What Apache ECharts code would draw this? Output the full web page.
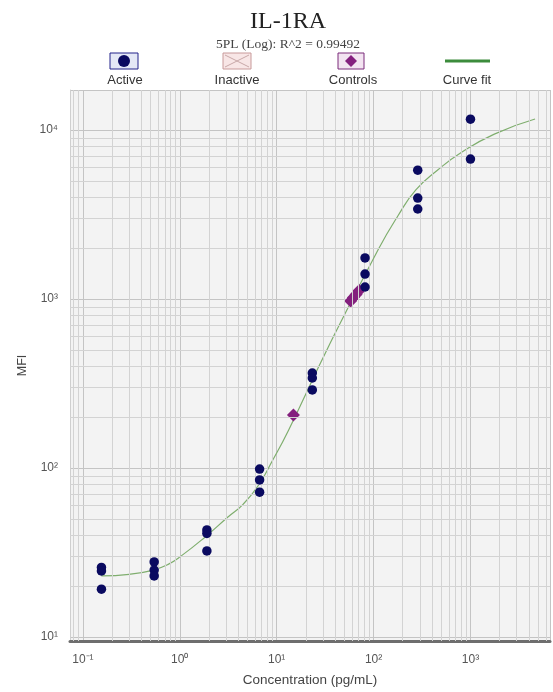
<!DOCTYPE html>
<html><head><meta charset="utf-8">
<script src="https://cdn.jsdelivr.net/npm/echarts@6/dist/echarts.min.js"></script>
<style>html,body{margin:0;padding:0;background:#fff}#c{width:553px;height:692px}</style>
</head><body><div id="c"></div>
<script>
// ---- data ----
const activeX = [0.1554,0.1554,0.1554, 0.544,0.544,0.544, 1.904,1.904,1.904, 6.664,6.664,6.664, 23.32,23.32,23.32, 81.63,81.63,81.63, 285.7,285.7,285.7, 1000,1000];
const activeY = [25.8,24.6,19.2, 27.8,24.9,23.0, 43,41,32.3, 98.6,85,72, 365,341,290, 1750,1405,1178, 5790,3960,3410, 11600,6730];
const controlX = [14.9, 58, 62, 66, 71];
const controlY = [206, 975, 1020, 1065, 1125];
const curveX = [0.155, 0.3, 0.522, 0.75, 1.036, 1.83, 3.14, 4.5, 6.38, 9.0, 13.3, 34.1, 111, 178, 273, 459, 789, 1762, 4640];
const curveY = [23.0, 23.5, 24.8, 26.8, 30.2, 39.1, 51.3, 61, 78, 110, 168, 520, 1950, 3100, 4420, 5800, 7310, 9460, 11620];
const xTickValues = [0.1, 1, 10, 100, 1000];
const xTickLabels = ['10\u207B\u00B9', '10\u2070', '10\u00B9', '10\u00B2', '10\u00B3'];
const yTickValues = [10, 100, 1000, 10000];
const yTickLabels = ['10\u00B9', '10\u00B2', '10\u00B3', '10\u2074'];
const gridMultipliers = [2,3,4,5,6,7,8,9];
const xDecades = [0.01, 0.1, 1, 10, 100, 1000];
const yDecades = [1, 10, 100, 1000, 10000];

const xMin = 0.0736, xMax = 6620, yMin = 9.47, yMax = 17260;

function lab(vals, labels){
  return function(v){
    for (let i=0;i<vals.length;i++){ if (Math.abs(Math.log10(v)-Math.log10(vals[i]))<1e-6) return labels[i]; }
    return '';
  };
}
const minorX = [], minorY = [];
xDecades.forEach(d=>gridMultipliers.forEach(m=>{const v=d*m; if(v>xMin&&v<xMax) minorX.push({xAxis:v});}));
yDecades.forEach(d=>gridMultipliers.forEach(m=>{const v=d*m; if(v>yMin&&v<yMax) minorY.push({yAxis:v});}));

const chart = echarts.init(document.getElementById('c'), null, {renderer:'canvas'});
const sans = 'Liberation Sans, Arial, sans-serif';
const labelY = 80;
chart.setOption({
  animation:false,
  backgroundColor:'#fff',
  title:[
    {text:'IL-1RA', left:283, top:5, textAlign:'center', textStyle:{fontFamily:'Liberation Serif, Times New Roman, serif', fontSize:24, fontWeight:'normal', color:'#222'}},
    {text:'5PL (Log): R^2 = 0.99492', left:283, top:32, textAlign:'center', textStyle:{fontFamily:'Liberation Serif, Times New Roman, serif', fontSize:13.5, fontWeight:'normal', color:'#444'}}
  ],
  grid:{left:70, top:90, right:0, bottom:51, show:true, backgroundColor:'#f3f3f3', borderWidth:0},
  xAxis:{type:'log', min:xMin, max:xMax, name:'Concentration (pg/mL)', nameLocation:'middle', nameGap:32,
    nameTextStyle:{fontFamily:sans, fontSize:13.5, color:'#444'},
    axisLine:{show:true, lineStyle:{color:'#6e6e6e', width:3}}, axisTick:{show:false},
    axisLabel:{formatter:lab(xTickValues,xTickLabels), fontFamily:sans, fontSize:12, color:'#555', margin:13},
    splitLine:{show:true, lineStyle:{color:'#c4c4c4', width:1}}},
  yAxis:{type:'log', min:yMin, max:yMax, name:'MFI', nameLocation:'middle', nameGap:40, nameRotate:90,
    nameTextStyle:{fontFamily:sans, fontSize:12.5, color:'#444'},
    axisLine:{show:true, lineStyle:{color:'#cfcfcf', width:1}}, axisTick:{show:false},
    axisLabel:{formatter:lab(yTickValues,yTickLabels), fontFamily:sans, fontSize:12, color:'#555', margin:12},
    splitLine:{show:true, lineStyle:{color:'#c4c4c4', width:1}}},
  series:[
    {type:'line', name:'grid', data:[], silent:true, z:1,
      markLine:{silent:true, symbol:['none','none'], label:{show:false}, animation:false,
        lineStyle:{color:'#d3d3d3', width:1, type:'solid'}, emphasis:{disabled:true},
        data: minorX.concat(minorY)}},
    {type:'line', name:'Curve fit', data:curveX.map((x,i)=>[x,curveY[i]]), smooth:true, showSymbol:false, symbol:'none',
      lineStyle:{color:'#7fae6e', width:1.2}, z:3},
    {type:'scatter', name:'Controls', data:controlX.map((x,i)=>[x,controlY[i]]), symbol:'diamond', symbolSize:13,
      itemStyle:{color:'#84207e', opacity:1}, z:4},
    {type:'scatter', name:'Active', data:activeX.map((x,i)=>[x,activeY[i]]), symbol:'circle', symbolSize:9.5,
      itemStyle:{color:'#0a0a60', opacity:1}, z:5}
  ],
  graphic:[
    {type:'rect', shape:{x:110, y:53, width:28, height:16}, style:{fill:'#e4e8f6', stroke:'#22228a', lineWidth:1}},
    {type:'circle', shape:{cx:124, cy:61, r:6}, style:{fill:'#0a0a60'}},
    {type:'text', style:{text:'Active', x:125, y:labelY, align:'center', verticalAlign:'middle', font:'13px '+sans, fill:'#333'}},
    {type:'rect', shape:{x:223, y:53, width:28, height:16}, style:{fill:'#f8e6e6', stroke:'#c89a9a', lineWidth:1}},
    {type:'line', shape:{x1:225, y1:55, x2:249, y2:67}, style:{stroke:'#c8a8a8', lineWidth:1}},
    {type:'line', shape:{x1:249, y1:55, x2:225, y2:67}, style:{stroke:'#c8a8a8', lineWidth:1}},
    {type:'text', style:{text:'Inactive', x:237, y:labelY, align:'center', verticalAlign:'middle', font:'13px '+sans, fill:'#333'}},
    {type:'rect', shape:{x:338, y:53, width:26, height:16}, style:{fill:'#f3e4f1', stroke:'#7a2a7a', lineWidth:1}},
    {type:'polygon', shape:{points:[[351,55],[357,61],[351,67],[345,61]]}, style:{fill:'#84207e'}},
    {type:'text', style:{text:'Controls', x:353, y:labelY, align:'center', verticalAlign:'middle', font:'13px '+sans, fill:'#333'}},
    {type:'line', shape:{x1:445, y1:61, x2:490, y2:61}, style:{stroke:'#3c8c3c', lineWidth:3}},
    {type:'text', style:{text:'Curve fit', x:467, y:labelY, align:'center', verticalAlign:'middle', font:'13px '+sans, fill:'#333'}}
  ]
});
</script></body></html>
